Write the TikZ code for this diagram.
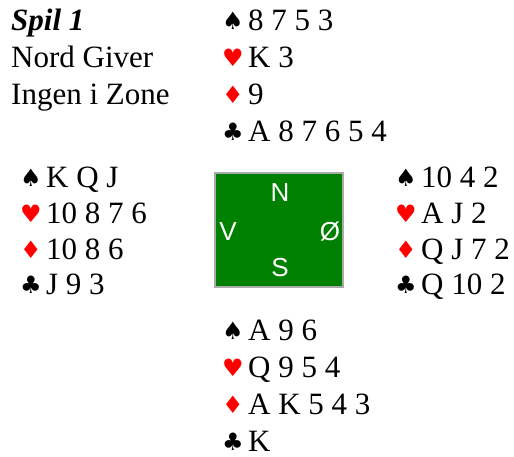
\documentclass[tikz,border=0pt]{standalone}
\usepackage{fontspec}
\setmainfont{Liberation Serif}
\newfontfamily\suitfont{DejaVu Sans}
\newfontfamily\boxfont{Liberation Sans}
\definecolor{suitred}{RGB}{255,0,0}
\definecolor{tablegreen}{RGB}{0,128,0}
\definecolor{boxgray}{RGB}{170,170,170}
\newcommand\suitsym[2]{\makebox[26pt][l]{\raisebox{1pt}{\fontsize{24}{24}\suitfont\textcolor{#1}{#2}}}}
\newcommand\SSp{\suitsym{black}{♠}}
\newcommand\SHe{\suitsym{suitred}{♥}}
\newcommand\SDi{\suitsym{suitred}{♦}}
\newcommand\SCl{\suitsym{black}{♣}}
\begin{document}
\begin{tikzpicture}[x=1pt,y=-1pt,
  txt/.style={inner sep=0pt,anchor=base west,font=\fontsize{31}{36}\selectfont},
  seat/.style={inner sep=0pt,text=white,font=\fontsize{26}{26}\boxfont}]
\useasboundingbox (0,0) rectangle (514,457);
% header
\node[txt] (title) at (11,31) {\textbf{\textit{Spil 1}}};
\node[txt] (dealer) at (11,68) {Nord Giver};
\node[txt] (vul) at (11,105) {Ingen i Zone};
% North
\node[txt] (ns) at (222,31) {\SSp 8 7 5 3};
\node[txt] (nh) at (222,68) {\SHe K 3};
\node[txt] (nd) at (222,105) {\SDi 9};
\node[txt] (nc) at (222,142) {\SCl A 8 7 6 5 4};
% West
\node[txt] (ws) at (20,188) {\SSp K Q J};
\node[txt] (wh) at (20,224) {\SHe 10 8 7 6};
\node[txt] (wd) at (20,259) {\SDi 10 8 6};
\node[txt] (wc) at (20,294) {\SCl J 9 3};
% East
\node[txt] (es) at (395,188) {\SSp 10 4 2};
\node[txt] (eh) at (395,224) {\SHe A J 2};
\node[txt] (ed) at (395,259) {\SDi Q J 7 2};
\node[txt] (ec) at (395,294) {\SCl Q 10 2};
% South
\node[txt] (ss) at (222,340) {\SSp A 9 6};
\node[txt] (sh) at (222,377) {\SHe Q 9 5 4};
\node[txt] (sd) at (222,414) {\SDi A K 5 4 3};
\node[txt] (sc) at (222,451) {\SCl K};
% table
\draw[draw=boxgray,line width=1.5pt,fill=tablegreen] (215,173) rectangle (343,287);
\node[seat] (N) at (280,193) {N};
\node[seat] (V) at (228,232) {V};
\node[seat] (E) at (330,232) {Ø};
\node[seat] (S) at (280,268) {S};
\end{tikzpicture}
\end{document}
